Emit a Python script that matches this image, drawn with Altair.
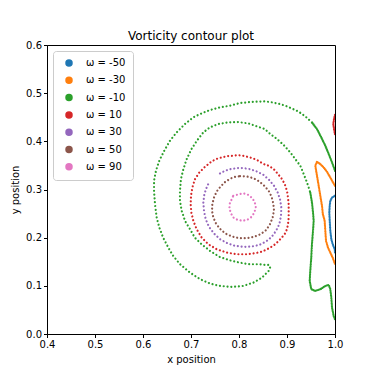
import altair as alt
import pandas as pd

levels = ["ω = -50", "ω = -30", "ω = -10", "ω = 10", "ω = 30", "ω = 50", "ω = 90"]
colors = ["#1f77b4", "#ff7f0e", "#2ca02c", "#d62728", "#9467bd", "#8c564b", "#e377c2"]
x_ticks = [0.4, 0.5, 0.6, 0.7, 0.8, 0.9, 1.0]
y_ticks = [0.0, 0.1, 0.2, 0.3, 0.4, 0.5, 0.6]

# omega = -50 (blue)
blue_m50 = [(1.0, 0.287), (0.9938, 0.2834), (0.9902, 0.2765), (0.989, 0.2661), (0.9881, 0.2522),
            (0.989, 0.2349), (0.9902, 0.2141), (0.9923, 0.1968), (0.9952, 0.1865), (0.9994, 0.176),
            (1.0, 0.169)]

# omega = -30 (orange)
orange_m30 = [(1.0, 0.3077), (0.9952, 0.316), (0.9902, 0.325), (0.9833, 0.3368), (0.9764, 0.3458),
              (0.9694, 0.3528), (0.9625, 0.3576), (0.959, 0.3493), (0.9625, 0.3285), (0.966, 0.3077),
              (0.9694, 0.2869), (0.9729, 0.2661), (0.9745, 0.25), (0.9785, 0.2349), (0.9798, 0.2141),
              (0.9813, 0.1933), (0.9854, 0.1794), (0.9902, 0.169), (0.9952, 0.1586), (1.0, 0.1449)]

# omega = -10 (green): outer arm near right edge (dense)
green_m10_a = [(1.0, 0.3389), (0.9938, 0.3561), (0.9869, 0.3736), (0.9798, 0.391), (0.9715, 0.408),
               (0.9625, 0.4255), (0.952, 0.4393)]
# omega = -10 (green): spiral (dotted)
green_m10_b = [(0.952, 0.4393), (0.9381, 0.4518), (0.9244, 0.4615), (0.9104, 0.468), (0.8965, 0.474),
               (0.8827, 0.478), (0.8688, 0.481), (0.8548, 0.483), (0.830, 0.482), (0.802, 0.4796),
               (0.781, 0.474), (0.760, 0.4705), (0.7396, 0.465), (0.722, 0.458), (0.705, 0.450),
               (0.6875, 0.436), (0.670, 0.4185), (0.656, 0.401), (0.644, 0.380), (0.634, 0.360),
               (0.627, 0.339), (0.623, 0.318), (0.623, 0.297), (0.625, 0.2696), (0.6285, 0.242),
               (0.634, 0.221), (0.642, 0.200), (0.653, 0.179), (0.663, 0.162), (0.677, 0.145),
               (0.698, 0.1275), (0.719, 0.1137), (0.740, 0.1046), (0.760, 0.0998), (0.785, 0.0977),
               (0.809, 0.0998), (0.830, 0.1067), (0.8479, 0.117), (0.8548, 0.1241), (0.8619, 0.131),
               (0.8652, 0.1393), (0.8619, 0.1435), (0.8548, 0.1435), (0.8437, 0.1448), (0.823, 0.1448),
               (0.802, 0.148), (0.781, 0.153), (0.760, 0.160), (0.7396, 0.1726), (0.722, 0.1864),
               (0.708, 0.200), (0.698, 0.2176), (0.6875, 0.235), (0.6806, 0.2557), (0.677, 0.2765),
               (0.677, 0.297), (0.679, 0.3216), (0.684, 0.342), (0.691, 0.363), (0.701, 0.384),
               (0.712, 0.401), (0.7257, 0.4186), (0.7396, 0.429), (0.757, 0.436), (0.778, 0.4394),
               (0.7986, 0.440), (0.819, 0.4373), (0.840, 0.430), (0.8535, 0.4256), (0.8652, 0.4152),
               (0.8792, 0.4048), (0.8931, 0.3923), (0.9069, 0.3770), (0.9173, 0.3632), (0.9277, 0.3493),
               (0.9348, 0.3320), (0.9417, 0.3146), (0.9485, 0.2938)]
# omega = -10 (green): lower right arm (dense)
green_m10_c = [(0.9485, 0.2938), (0.952, 0.2730), (0.9542, 0.2522), (0.9556, 0.2349), (0.9542, 0.2141),
               (0.952, 0.1865), (0.9506, 0.1590), (0.9485, 0.1310), (0.9473, 0.1102), (0.9506, 0.0929),
               (0.959, 0.0894), (0.9694, 0.0929), (0.9798, 0.0998), (0.9869, 0.1019), (0.9902, 0.0929),
               (0.9923, 0.0755), (0.9938, 0.0547), (0.9973, 0.0374), (1.0, 0.0306)]

# omega = 10 (red)
red_10 = [(0.809, 0.370), (0.8229, 0.3666), (0.8368, 0.3617), (0.8514, 0.3528), (0.8619, 0.3493),
          (0.8723, 0.3424), (0.8813, 0.332), (0.8896, 0.3216), (0.8952, 0.3112), (0.9, 0.2973),
          (0.9021, 0.2834), (0.9035, 0.2696), (0.9035, 0.2557), (0.9035, 0.2418), (0.9021, 0.2281),
          (0.9, 0.2177), (0.8952, 0.2073), (0.8861, 0.1969), (0.8757, 0.1865), (0.8652, 0.1795),
          (0.8548, 0.1741), (0.8479, 0.1711), (0.8368, 0.1684), (0.816, 0.1656), (0.7951, 0.1656),
          (0.7743, 0.1691), (0.7535, 0.176), (0.7361, 0.1864), (0.7222, 0.2003), (0.7118, 0.2176),
          (0.7049, 0.2349), (0.7007, 0.2523), (0.6993, 0.2696), (0.7, 0.2869), (0.7028, 0.3042),
          (0.7083, 0.3216), (0.7174, 0.3354), (0.7292, 0.3472), (0.7431, 0.3583), (0.7521, 0.3631),
          (0.7639, 0.3666), (0.7757, 0.3694), (0.7882, 0.370), (0.7986, 0.3714), (0.809, 0.370)]
red_10_edge = [(1.0, 0.4547), (0.998, 0.4463), (0.9965, 0.436), (0.998, 0.4255), (1.0, 0.415)]

# omega = 30 (purple)
purple_30 = [(0.7604, 0.3333), (0.7708, 0.3389), (0.7826, 0.3423), (0.7951, 0.3444), (0.809, 0.3444),
             (0.8229, 0.3423), (0.8368, 0.3375), (0.8507, 0.3306), (0.8632, 0.3195), (0.8729, 0.3077),
             (0.8806, 0.2938), (0.8854, 0.280), (0.8882, 0.2626), (0.8875, 0.2453), (0.884, 0.228),
             (0.8771, 0.2141), (0.868, 0.2017), (0.8563, 0.192), (0.8424, 0.185), (0.8264, 0.1816),
             (0.809, 0.1809), (0.7917, 0.183), (0.7757, 0.1885), (0.7604, 0.1968), (0.7479, 0.2086),
             (0.7375, 0.2225), (0.7306, 0.2384), (0.7271, 0.2557), (0.7257, 0.273), (0.7278, 0.2904),
             (0.7326, 0.3042), (0.7375, 0.3146)]

# omega = 50 (brown)
brown_50 = [(0.8021, 0.3278), (0.816, 0.3271), (0.8299, 0.3236), (0.8424, 0.3167), (0.8528, 0.3077),
            (0.8618, 0.2973), (0.868, 0.2848), (0.8715, 0.271), (0.8729, 0.2571), (0.8701, 0.2419),
            (0.8646, 0.228), (0.8563, 0.2155), (0.8451, 0.2072), (0.8313, 0.2017), (0.816, 0.1989),
            (0.8007, 0.1989), (0.7854, 0.2024), (0.7715, 0.2086), (0.7604, 0.2183), (0.7521, 0.2294),
            (0.7465, 0.2419), (0.7438, 0.2557), (0.7444, 0.2696), (0.7479, 0.2834), (0.7535, 0.2959),
            (0.7618, 0.3063), (0.7715, 0.316), (0.7826, 0.3229), (0.7924, 0.3264), (0.8021, 0.3278)]

# omega = 90 (pink)
pink_90 = [(0.788, 0.287), (0.799, 0.290), (0.809, 0.292), (0.819, 0.289), (0.828, 0.282),
           (0.833, 0.273), (0.835, 0.263), (0.832, 0.252), (0.826, 0.243), (0.817, 0.237),
           (0.807, 0.235), (0.797, 0.237), (0.788, 0.242), (0.783, 0.251), (0.780, 0.261),
           (0.781, 0.272), (0.785, 0.280), (0.788, 0.287)]

segments = [
    ("ω = -50", "dense", blue_m50),
    ("ω = -30", "dense", orange_m30),
    ("ω = -10", "dense", green_m10_a),
    ("ω = -10", "dot", green_m10_b),
    ("ω = -10", "dense", green_m10_c),
    ("ω = 10", "dot", red_10),
    ("ω = 10", "dense", red_10_edge),
    ("ω = 30", "dot", purple_30),
    ("ω = 50", "dot", brown_50),
    ("ω = 90", "dot", pink_90),
]

rows = []
for i, (lvl, style, pts) in enumerate(segments):
    for j, (x, y) in enumerate(pts):
        rows.append({"level": lvl, "style": style, "seg": i, "order": j, "x": x, "y": y})
df = pd.DataFrame(rows)

FONT = "DejaVu Sans"
x_enc = alt.X("x:Q", scale=alt.Scale(domain=[0.4, 1.0], nice=False, zero=False),
              axis=alt.Axis(values=x_ticks, format=".1f", title="x position", grid=False,
                            tickSize=3.5, labelPadding=2, titlePadding=5, labelFlush=False))
y_enc = alt.Y("y:Q", scale=alt.Scale(domain=[0.0, 0.6], nice=False),
              axis=alt.Axis(values=y_ticks, format=".1f", title="y position", grid=False,
                            tickSize=3.5, labelPadding=2, titlePadding=5, labelFlush=False))
color_scale = alt.Scale(domain=levels, range=colors)

base = alt.Chart(df)

legend_pts = base.mark_circle(opacity=0, size=4).encode(
    x=x_enc, y=y_enc,
    color=alt.Color("level:N", scale=color_scale,
                    legend=alt.Legend(title=None, orient="top-left", offset=6, padding=7,
                                      strokeColor="#cccccc", cornerRadius=3, fillColor="white",
                                      symbolType="circle", symbolSize=36, symbolOpacity=1,
                                      labelFontSize=10, labelFont=FONT, labelColor="black",
                                      labelOffset=12, rowPadding=5.3, symbolOffset=4)),
)

lines = base.mark_line(strokeWidth=2.2, strokeCap="round", strokeJoin="round", clip=True).encode(
    x=x_enc, y=y_enc,
    color=alt.Color("level:N", scale=color_scale, legend=None),
    strokeDash=alt.StrokeDash("style:N",
                              scale=alt.Scale(domain=["dot", "dense"], range=[[0.01, 3.8], [0.01, 1.6]]),
                              legend=None),
    detail="seg:N",
    order="order:Q",
)

chart = alt.layer(legend_pts, lines).properties(
    width=288, height=289,
    title=alt.TitleParams("Vorticity contour plot", fontSize=12, fontWeight="normal",
                          font=FONT, color="black", offset=-3),
    padding={"left": 2, "top": 22, "right": 10, "bottom": 5},
).configure(font=FONT).configure_axis(
    labelFont=FONT, titleFont=FONT, labelFontSize=10, titleFontSize=10,
    titleFontWeight="normal", labelColor="black", titleColor="black",
    domainColor="black", tickColor="black",
).configure_view(stroke="black", strokeWidth=1)

chart.save("out.html", embed_options={"renderer": "svg", "actions": False})
